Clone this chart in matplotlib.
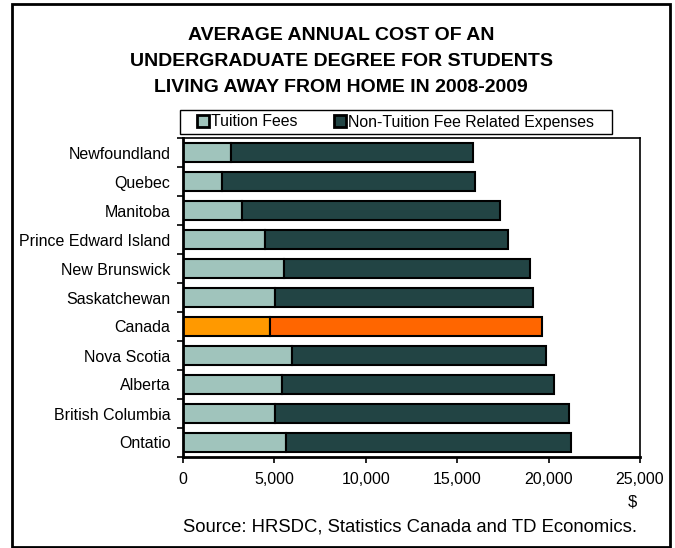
import numpy as np
import matplotlib
matplotlib.use("Agg")
import matplotlib.pyplot as plt
from matplotlib.patches import Rectangle

plt.rcParams['font.family'] = ['Liberation Sans', 'DejaVu Sans']

# Data (top to bottom)
provinces = ["Newfoundland", "Quebec", "Manitoba", "Prince Edward Island",
             "New Brunswick", "Saskatchewan", "Canada", "Nova Scotia",
             "Alberta", "British Columbia", "Ontatio"]
tuition = [2600, 2150, 3250, 4500, 5550, 5050, 4750, 5950, 5400, 5050, 5650]
total = [15850, 15950, 17350, 17800, 19000, 19150, 19650, 19850, 20300, 21100, 21200]
non_tuition = [t - f for t, f in zip(total, tuition)]
xticks = [0, 5000, 10000, 15000, 20000, 25000]

W, H = 675, 548
fig = plt.figure(figsize=(W / 100, H / 100), dpi=100)

# outer frame
fig.patches.append(Rectangle((12 / W, 1 / H), 658 / W, 543 / H, transform=fig.transFigure,
                             fill=False, edgecolor='black', linewidth=2))

title_lines = ["AVERAGE ANNUAL COST OF AN",
               "UNDERGRADUATE DEGREE FOR STUDENTS",
               "LIVING AWAY FROM HOME IN 2008-2009"]
for i, line in enumerate(title_lines):
    fig.text(341 / W, 1 - (36 + 26 * i) / H, line, ha='center', va='center',
             fontsize=14, fontweight='bold')

ax = fig.add_axes([183 / W, (H - 457) / H, 457 / W, 319 / H])

y = np.arange(len(provinces))
c_tu = ['#FF9900' if p == "Canada" else '#A0C4BC' for p in provinces]
c_nt = ['#FF6600' if p == "Canada" else '#224444' for p in provinces]
b1 = ax.barh(y, tuition, height=0.68, color=c_tu, edgecolor='black', linewidth=1.5,
             label="Tuition Fees")
b2 = ax.barh(y, non_tuition, left=tuition, height=0.68, color=c_nt, edgecolor='black',
             linewidth=1.5, label="Non-Tuition Fee Related Expenses")

ax.set_xlim(0, 25000)
ax.set_ylim(len(provinces) - 0.5, -0.5)
ax.set_xticks(xticks)
ax.set_xticklabels([f"{v:,}" for v in xticks], fontsize=11.5)
ax.tick_params(axis='x', direction='out', length=4, width=1.2, pad=7)
ax.set_yticks(y)
ax.set_yticklabels(provinces, fontsize=11.5)
ax.set_yticks(np.arange(len(provinces) + 1) - 0.5, minor=True)
ax.tick_params(axis='y', which='major', length=0, pad=9)
ax.tick_params(axis='y', which='minor', direction='out', length=4, width=1.2)

for s in ['left', 'bottom']:
    ax.spines[s].set_linewidth(2)
for s in ['top', 'right']:
    ax.spines[s].set_linewidth(1.2)

# legend frame drawn separately so the padding matches the original
fig.patches.append(Rectangle((180 / W, 1 - 134 / H), 432 / W, 24 / H, transform=fig.transFigure,
                             fill=False, edgecolor='black', linewidth=1))
leg = fig.legend(handles=[b1[1], b2[1]], labels=["Tuition Fees", "Non-Tuition Fee Related Expenses"],
                 loc='center left', bbox_to_anchor=(197 / W, 1 - 122 / H), ncol=2, fontsize=11.4,
                 frameon=False, handlelength=0.75, handleheight=0.75, handletextpad=0.15,
                 columnspacing=2.3, borderpad=0, borderaxespad=0)
for h in leg.legend_handles:
    h.set_linewidth(2)

fig.text(632 / W, 1 - 502 / H, "$", ha='center', va='center', fontsize=12)
fig.text(410 / W, 1 - 527 / H, "Source: HRSDC, Statistics Canada and TD Economics.",
         ha='center', va='center', fontsize=13.3)

fig.savefig("out.png", dpi=100)
